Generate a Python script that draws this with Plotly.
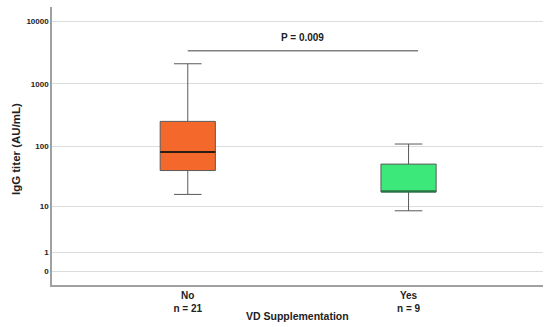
import numpy as np
import plotly.graph_objects as go

# Data, IgG titer in AU/mL
groups = ["No", "Yes"]
group_labels = ["No<br>n = 21", "Yes<br>n = 9"]
lower_whisker = [16, 8.3]
q1_vals = [40, 17.6]
median_vals = [80, 18]
q3_vals = [250, 51]
upper_whisker = [2100, 108]
box_colors = ["#F4692B", "#3DE87B"]
y_ticks = [0, 1, 10, 100, 1000, 10000]
p_text = "P = 0.009"

def tr(v):
    return np.log10(np.asarray(v, dtype=float) + 1)

xpos = list(range(len(groups)))
box_w = 0.25
FONT = "Liberation Sans, Arial"

fig = go.Figure()
for i, g in enumerate(groups):
    fig.add_trace(go.Box(
        x=[xpos[i]],
        q1=[float(tr(q1_vals[i]))],
        median=[float(tr(median_vals[i]))],
        q3=[float(tr(q3_vals[i]))],
        lowerfence=[float(tr(lower_whisker[i]))],
        upperfence=[float(tr(upper_whisker[i]))],
        fillcolor=box_colors[i],
        line=dict(color="#5a5a5a", width=1),
        width=box_w,
        whiskerwidth=0.5,
        boxpoints=False,
        showlegend=False,
        name=g,
    ))
    # darker median line
    fig.add_trace(go.Scatter(
        x=[xpos[i] - box_w / 2, xpos[i] + box_w / 2],
        y=[float(tr(median_vals[i]))] * 2,
        mode="lines",
        line=dict(color="#2b1d14" if i == 0 else "#1e7a40", width=2),
        showlegend=False,
        hoverinfo="skip",
    ))

# significance bracket
sig_y = float(tr(3400))
fig.add_shape(type="line", xref="x", yref="y",
              x0=xpos[0], x1=xpos[1] + 0.043, y0=sig_y, y1=sig_y,
              line=dict(color="#808080", width=1.5))
fig.add_annotation(x=(xpos[0] + xpos[1] + 0.043) / 2, y=sig_y, xref="x", yref="y",
                   text="<b>" + p_text + "</b>", showarrow=False, yshift=13,
                   font=dict(family=FONT, size=10, color="#222"))

fig.add_annotation(x=0.50, y=-0.112, xref="paper", yref="paper",
                   text="<b>VD Supplementation</b>", showarrow=False,
                   font=dict(family=FONT, size=10.5, color="#222"),
                   yanchor="middle", xanchor="center")

fig.add_annotation(x=-0.0733, y=0.489, xref="paper", yref="paper",
                   text="<b>IgG titer (AU/mL)</b>", showarrow=False, textangle=-90,
                   font=dict(family=FONT, size=11.5, color="#222"),
                   xanchor="center", yanchor="middle")

fig.update_layout(
    width=550, height=327,
    margin=dict(l=52, r=7, t=7, b=42, autoexpand=False),
    paper_bgcolor="white", plot_bgcolor="white",
    font=dict(family=FONT, color="#222"),
)
fig.update_xaxes(
    range=[-0.615, 1.609],
    tickvals=xpos, ticktext=["<b>" + t.replace("<br>", "</b><br><b>") + "</b>" for t in group_labels],
    tickfont=dict(size=10, color="#222"),
    showgrid=False, zeroline=False,
    showline=True, linecolor="#a0a0a0", linewidth=1.5,
    ticks="", automargin=False,
)
fig.update_yaxes(
    range=[-0.2196, 4.231],
    tickvals=[float(tr(v)) for v in y_ticks],
    ticktext=["<b>%d</b>" % v for v in y_ticks],
    tickfont=dict(size=8, color="#222"),
    showgrid=True, gridcolor="#dcdcdc", gridwidth=1,
    zeroline=False,
    showline=True, linecolor="#a0a0a0", linewidth=1.5,
    ticks="", automargin=False,
)

fig.write_html("out.html", config={"displayModeBar": False},
               post_script="document.body.style.margin='0';")
